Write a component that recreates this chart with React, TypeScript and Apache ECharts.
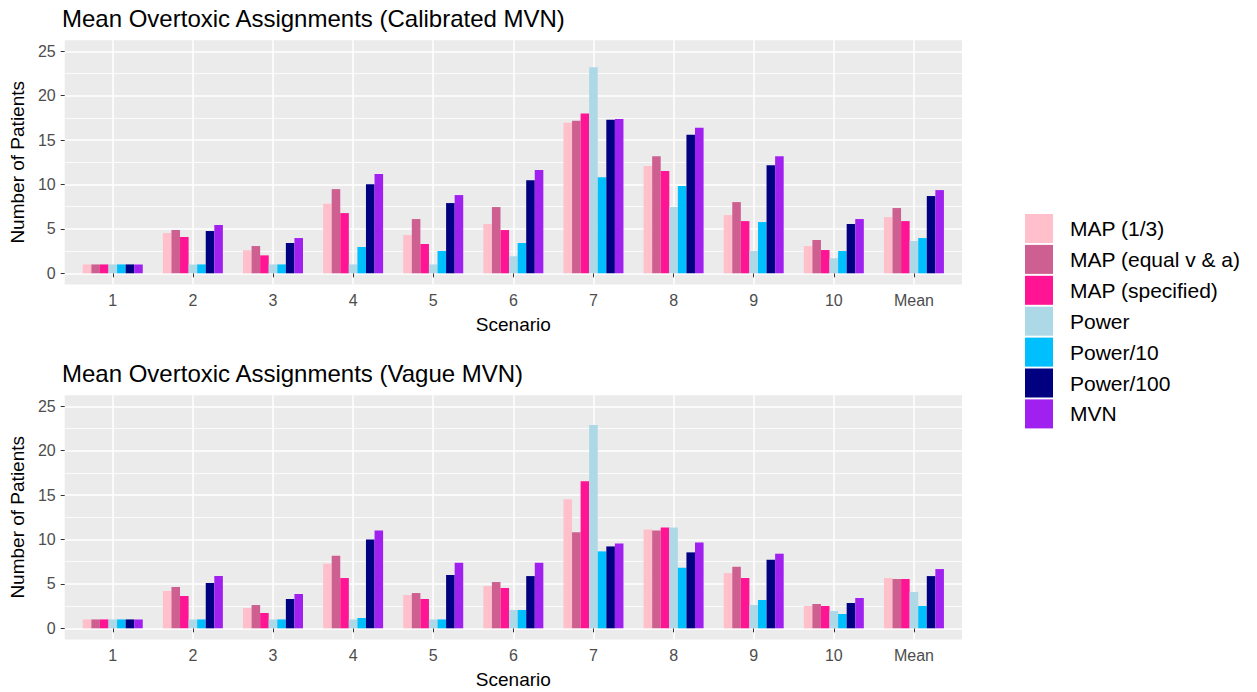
import React, { useEffect, useRef } from "react";
import * as echarts from "echarts";

const scenarios = ["1", "2", "3", "4", "5", "6", "7", "8", "9", "10", "Mean"];
const methods = ["MAP (1/3)", "MAP (equal v & a)", "MAP (specified)", "Power", "Power/10", "Power/100", "MVN"];
const colors = ["#FFC0CB", "#CD6090", "#FF1493", "#ADD8E6", "#00BFFF", "#000080", "#A020F0"];
const yTicks = [0, 5, 10, 15, 20, 25];
const yMinor = [2.5, 7.5, 12.5, 17.5, 22.5];

// Calibrated MVN panel
const calMap13 = [1, 4.54, 2.59, 7.83, 4.31, 5.55, 16.94, 12.07, 6.56, 3.07, 6.33];
const calMapEq = [1, 4.87, 3.07, 9.48, 6.11, 7.46, 17.17, 13.19, 8.02, 3.75, 7.35];
const calMapSp = [1, 4.09, 2.02, 6.78, 3.3, 4.87, 17.99, 11.51, 5.88, 2.62, 5.88];
const calPower = [1, 1, 1, 1, 1, 1.91, 23.2, 7.46, 2.51, 1.69, 3.64];
const calPower10 = [1, 1, 1, 2.96, 2.51, 3.41, 10.83, 9.82, 5.77, 2.51, 3.97];
const calPower100 = [1, 4.76, 3.41, 10.04, 7.91, 10.49, 17.28, 15.59, 12.18, 5.55, 8.7];
const calMvn = [1, 5.43, 3.97, 11.17, 8.81, 11.62, 17.39, 16.38, 13.19, 6.11, 9.37];

// Vague MVN panel
const vagMap13 = [1, 4.2, 2.29, 7.27, 3.75, 4.76, 14.54, 11.13, 6.22, 2.51, 5.66];
const vagMapEq = [1, 4.65, 2.62, 8.17, 3.97, 5.21, 10.83, 11.02, 6.93, 2.74, 5.55];
const vagMapSp = [1, 3.64, 1.72, 5.66, 3.3, 4.54, 16.57, 11.36, 5.66, 2.51, 5.55];
const vagPower = [1, 1, 1, 1, 1, 2.06, 22.9, 11.36, 2.62, 1.95, 4.09];
const vagPower10 = [1, 1, 1, 1.16, 1, 2.06, 8.66, 6.82, 3.19, 1.61, 2.51];
const vagPower100 = [1, 5.1, 3.3, 10.0, 6.0, 5.88, 9.22, 8.55, 7.72, 2.85, 5.88];
const vagMvn = [1, 5.88, 3.86, 11.02, 7.38, 7.38, 9.56, 9.67, 8.4, 3.41, 6.67];

const calibrated = [calMap13, calMapEq, calMapSp, calPower, calPower10, calPower100, calMvn];
const vague = [vagMap13, vagMapEq, vagMapSp, vagPower, vagPower10, vagPower100, vagMvn];

const FONT = "'Liberation Sans', Arial, Helvetica, sans-serif";

export default function App() {
  const ref = useRef<HTMLDivElement>(null);

  useEffect(() => {
    document.body.style.margin = "0";
    const chart = echarts.init(ref.current!, null, { renderer: "svg" });

    const catPositions = scenarios.map((_, i) => i + 1);

    const makeX = (gridIndex: number) => ({
      type: "value",
      gridIndex,
      min: 0.4,
      max: 11.6,
      name: "Scenario",
      nameLocation: "middle",
      nameGap: 31,
      nameTextStyle: { fontSize: 19, color: "#000", fontFamily: FONT },
      axisLine: { show: false },
      axisTick: { show: true, length: 4, lineStyle: { color: "#333", width: 1 }, customValues: catPositions },
      axisLabel: {
        color: "#4D4D4D",
        fontSize: 16,
        fontFamily: FONT,
        margin: 8,
        customValues: catPositions,
        formatter: (v: number) => scenarios[Math.round(v) - 1] ?? "",
      },
      splitLine: { show: true, lineStyle: { color: "#FFFFFF", width: 1.5 } },
    });

    const makeYMain = (gridIndex: number) => ({
      type: "value",
      gridIndex,
      min: -1.25,
      max: 26.25,
      name: "Number of Patients",
      nameLocation: "middle",
      nameGap: 33,
      nameTextStyle: { fontSize: 19, color: "#000", fontFamily: FONT },
      axisLine: { show: false },
      axisTick: { show: true, length: 4, lineStyle: { color: "#333", width: 1 }, customValues: yTicks },
      axisLabel: { color: "#4D4D4D", fontSize: 16, fontFamily: FONT, margin: 9, customValues: yTicks },
      splitLine: { show: true, lineStyle: { color: "#FFFFFF", width: 1.5 } },
    });

    const makeYMinor = (gridIndex: number) => ({
      type: "value",
      gridIndex,
      min: -1.25,
      max: 26.25,
      position: "left",
      axisLine: { show: false },
      axisTick: { show: false, customValues: yMinor },
      axisLabel: { show: false, customValues: yMinor },
      splitLine: { show: true, lineStyle: { color: "#FFFFFF", width: 0.8 } },
    });

    const series: any[] = [];
    const panels = [calibrated, vague];
    panels.forEach((panel, p) => {
      panel.forEach((vals, i) => {
        series.push({
          type: "bar",
          name: methods[i],
          xAxisIndex: p,
          yAxisIndex: p * 2,
          barWidth: 8.57,
          barGap: "0%",
          itemStyle: { color: colors[i] },
          data: vals.map((v, j) => [j + 1, v]),
          z: 3,
        });
      });
    });

    chart.setOption({
      animation: false,
      color: colors,
      title: [
        {
          text: "Mean Overtoxic Assignments (Calibrated MVN)",
          left: 62,
          top: 6,
          padding: 0,
          textStyle: { fontSize: 24, fontWeight: "normal", color: "#000", fontFamily: FONT },
        },
        {
          text: "Mean Overtoxic Assignments (Vague MVN)",
          left: 62,
          top: 361,
          padding: 0,
          textStyle: { fontSize: 24, fontWeight: "normal", color: "#000", fontFamily: FONT },
        },
      ],
      legend: {
        orient: "vertical",
        left: 1025,
        top: 214,
        padding: 0,
        itemWidth: 28,
        itemHeight: 29,
        itemGap: 1.9,
        icon: "rect",
        data: methods,
        textStyle: { fontSize: 21, color: "#000", fontFamily: FONT, padding: [0, 0, 0, 12] },
      },
      grid: [
        { left: 62.5, right: 295, top: 40.2, height: 244.2, show: true, backgroundColor: "#EBEBEB", borderWidth: 0 },
        { left: 62.5, right: 295, top: 395.2, height: 244.2, show: true, backgroundColor: "#EBEBEB", borderWidth: 0 },
      ],
      xAxis: [makeX(0), makeX(1)],
      yAxis: [makeYMain(0), makeYMinor(0), makeYMain(1), makeYMinor(1)],
      series,
    });

    return () => chart.dispose();
  }, []);

  return <div ref={ref} style={{ width: 1257, height: 692 }} />;
}
